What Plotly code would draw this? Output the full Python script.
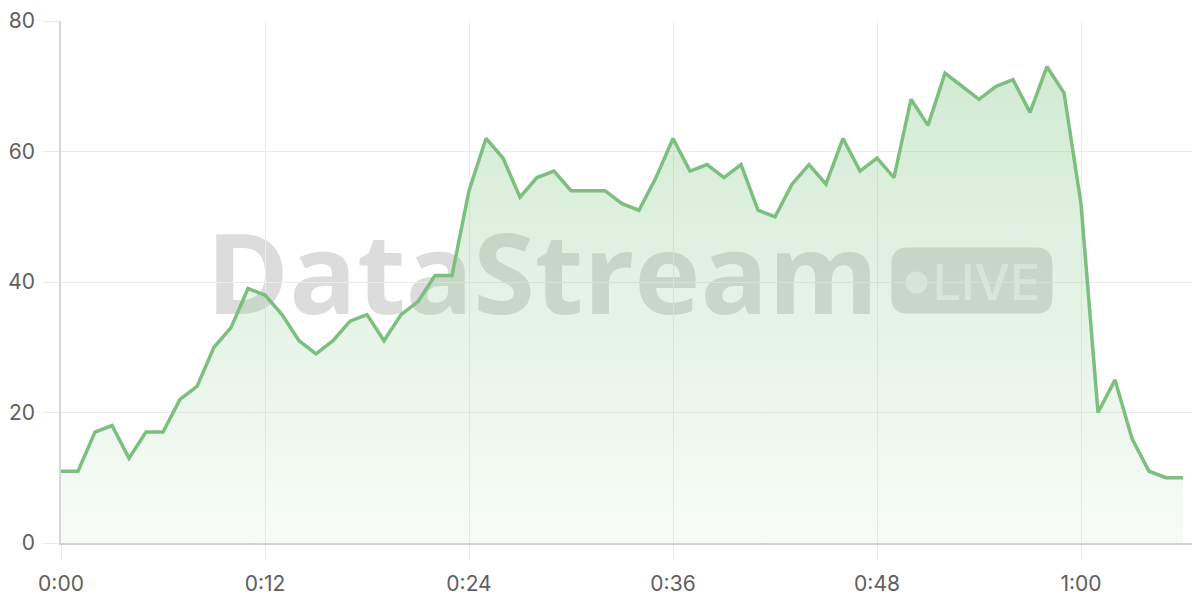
import plotly.graph_objects as go

# one reading per minute, 0:00 .. 1:06
minutes = list(range(67))
values = [11, 11, 17, 18, 13, 17, 17, 22, 24, 30,
          33, 39, 38, 35, 31, 29, 31, 34, 35, 31,
          35, 37, 41, 41, 54, 62, 59, 53, 56, 57,
          54, 54, 54, 52, 51, 56, 62, 57, 58, 56,
          58, 51, 50, 55, 58, 55, 62, 57, 59, 56,
          68, 64, 72, 70, 68, 70, 71, 66, 73, 69,
          52, 20, 25, 16, 11, 10, 10]

x_ticks = [0, 12, 24, 36, 48, 60]
x_labels = ["0:00", "0:12", "0:24", "0:36", "0:48", "1:00"]
y_ticks = [0, 20, 40, 60, 80]

line_green = "#7cbf7f"
grid = "#ebebeb"
tick_font = dict(family="Inter", size=21, color="#606060")
mark_col = "rgba(120,120,120,0.26)"

fig = go.Figure()
fig.add_trace(go.Scatter(
    x=minutes, y=values, mode="lines",
    line=dict(color=line_green, width=3.5),
    fill="tozeroy",
    fillgradient=dict(type="vertical", start=0, stop=73,
                      colorscale=[[0, "rgba(129,199,132,0.06)"],
                                  [1, "rgba(129,199,132,0.36)"]]),
    hoverinfo="skip",
))

# watermark, drawn between the grid and the data
fig.add_shape(type="rect", xref="paper", yref="paper",
              x0=0.30, x1=0.545, y0=0.4385, y1=0.5745, layer="between",
              line=dict(width=0), fillcolor="rgba(0,0,0,0)",
              label=dict(text="DataStream", textposition="middle center",
                         font=dict(family="Open Sans", size=112, weight="bold", color=mark_col)))
fig.add_shape(type="path", xref="paper", yref="paper",
              xsizemode="pixel", ysizemode="pixel", xanchor=0.7997, yanchor=0.5029,
              path="M -64.5,-33 L 64.5,-33 Q 80.5,-33 80.5,-17 L 80.5,17 Q 80.5,33 64.5,33 "
                   "L -64.5,33 Q -80.5,33 -80.5,17 L -80.5,-17 Q -80.5,-33 -64.5,-33 Z",
              layer="between", line=dict(width=0), fillcolor=mark_col)
fig.add_shape(type="circle", xref="paper", yref="paper",
              xsizemode="pixel", ysizemode="pixel", xanchor=0.7511, yanchor=0.499,
              x0=-11, x1=11, y0=-11, y1=11,
              layer="between", line=dict(width=0), fillcolor="rgba(255,255,255,0.55)")
fig.add_shape(type="rect", xref="paper", yref="paper",
              x0=0.78, x1=0.845, y0=0.47, y1=0.536, layer="between",
              line=dict(width=0), fillcolor="rgba(0,0,0,0)",
              label=dict(text="LIVE", textposition="middle center",
                         font=dict(family="Inter", size=50, weight=500,
                                   color="rgba(255,255,255,0.55)")))

# the page adds an 8px body margin top and left, so the figure is shrunk by that much
fig.update_layout(
    width=1192, height=592,
    margin=dict(l=51, r=0, t=12, b=57),
    paper_bgcolor="white", plot_bgcolor="white",
    showlegend=False,
    xaxis=dict(range=[0, 67], tickvals=x_ticks, ticktext=x_labels,
               showgrid=True, gridcolor=grid, gridwidth=1,
               ticks="outside", ticklen=15, tickcolor=grid, tickwidth=1,
               showline=True, linecolor="#d0d0d0", linewidth=2,
               zeroline=False, tickfont=tick_font, ticklabelstandoff=6,
               ticklabeloverflow="allow"),
    yaxis=dict(range=[0, 80], tickvals=y_ticks,
               showgrid=True, gridcolor=grid, gridwidth=1,
               ticks="outside", ticklen=16, tickcolor=grid, tickwidth=1,
               showline=True, linecolor="#d6d6d6", linewidth=1.5,
               zeroline=False, tickfont=tick_font, ticklabelstandoff=4,
               ticklabeloverflow="allow"),
)

fig.write_html("out.html")
